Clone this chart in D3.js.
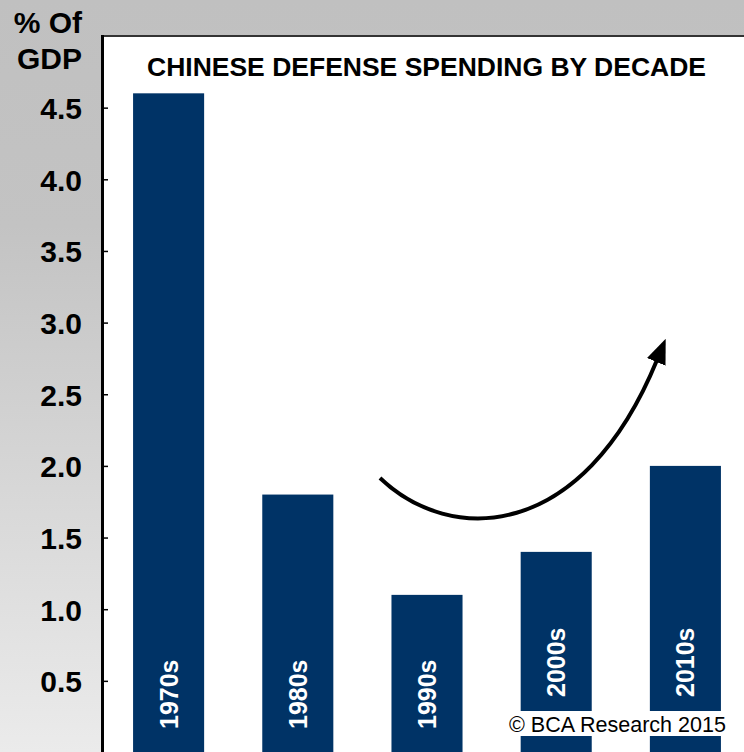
<!DOCTYPE html>
<html>
<head>
<meta charset="utf-8">
<script src="https://cdn.jsdelivr.net/npm/d3@7"></script>
<style>
  html, body { margin: 0; padding: 0; background: #fff; }
  svg { display: block; font-family: "Liberation Sans", Arial, sans-serif; }
</style>
</head>
<body>
<div id="chart"></div>
<script>
// data
const decades = ["1970s", "1980s", "1990s", "2000s", "2010s"];
const spending = [4.6, 1.8, 1.1, 1.4, 2.0];
const tickValues = [0.5, 1.0, 1.5, 2.0, 2.5, 3.0, 3.5, 4.0, 4.5];
const title = "CHINESE DEFENSE SPENDING BY DECADE";
const axisTitle = ["% Of", "GDP"];
const credit = "\u00A9 BCA Research 2015";

const width = 744, height = 752;
const plot = { left: 104, top: 36, right: 744, bottom: 752.5 };

const svg = d3.select("#chart").append("svg")
    .attr("width", width)
    .attr("height", height);

const defs = svg.append("defs");
const grad = defs.append("linearGradient")
    .attr("id", "bg")
    .attr("x1", 0).attr("y1", 0).attr("x2", 0).attr("y2", 1);
grad.append("stop").attr("offset", "0%").attr("stop-color", "#c0c0c0");
grad.append("stop").attr("offset", "30%").attr("stop-color", "#c3c3c3");
grad.append("stop").attr("offset", "100%").attr("stop-color", "#ebebeb");

defs.append("marker")
    .attr("id", "head")
    .attr("viewBox", "0 0 12.5 10")
    .attr("refX", 1).attr("refY", 5)
    .attr("markerWidth", 6.25).attr("markerHeight", 5)
    .attr("markerUnits", "strokeWidth")
    .attr("orient", "auto")
  .append("path")
    .attr("d", "M0,0 L12.5,5 L0,10 z")
    .attr("fill", "#000");

svg.append("rect")
    .attr("width", width).attr("height", height)
    .attr("fill", "url(#bg)");

svg.append("rect")
    .attr("x", plot.left).attr("y", plot.top)
    .attr("width", plot.right - plot.left)
    .attr("height", height - plot.top)
    .attr("fill", "#fff");

const x = d3.scaleBand()
    .domain(decades)
    .range([plot.left, plot.left + 5 * 129.2])
    .paddingInner(0.45)
    .paddingOuter(0.225);

const y = d3.scaleLinear()
    .domain([0, 5])
    .range([plot.bottom, plot.top]);

// bars
svg.append("g")
  .selectAll("rect")
  .data(decades)
  .join("rect")
    .attr("x", d => x(d))
    .attr("y", (d, i) => y(spending[i]))
    .attr("width", x.bandwidth())
    .attr("height", (d, i) => y(0) - y(spending[i]))
    .attr("fill", "#003366");

// rotated decade labels inside bars (last two lifted above the credit)
svg.append("g")
  .selectAll("text")
  .data(decades)
  .join("text")
    .attr("transform", (d, i) => `translate(${x(d) + x.bandwidth() / 2 + 9},${i < 3 ? 729 : 697}) rotate(-90)`)
    .attr("fill", "#fff")
    .attr("font-size", 25)
    .attr("font-weight", "bold")
    .text(d => d);

// top border
svg.append("line")
    .attr("x1", plot.left - 2).attr("x2", plot.right)
    .attr("y1", plot.top).attr("y2", plot.top)
    .attr("stroke", "#333").attr("stroke-width", 2);

// y axis
const yAxis = svg.append("g")
    .attr("transform", `translate(${plot.left - 1},0)`)
    .call(d3.axisRight(y).tickValues(tickValues).tickSize(5).tickFormat(d3.format(".1f")));
yAxis.select(".domain").remove();
yAxis.selectAll(".tick line").attr("stroke", "#000").attr("stroke-width", 1.5);
yAxis.selectAll(".tick text")
    .attr("x", -21)
    .attr("dy", "0.36em")
    .attr("text-anchor", "end")
    .attr("font-size", 30)
    .attr("font-weight", "bold")
    .attr("font-family", "Liberation Sans, Arial, sans-serif")
    .attr("fill", "#000");

svg.append("line")
    .attr("x1", plot.left - 1.5).attr("x2", plot.left - 1.5)
    .attr("y1", plot.top - 1).attr("y2", height)
    .attr("stroke", "#000").attr("stroke-width", 3);

// axis title
svg.append("g")
  .selectAll("text")
  .data(axisTitle)
  .join("text")
    .attr("x", 82)
    .attr("y", (d, i) => 33 + i * 36)
    .attr("text-anchor", "end")
    .attr("font-size", 30)
    .attr("font-weight", "bold")
    .text(d => d);

// chart title
svg.append("text")
    .attr("x", 147).attr("y", 76)
    .attr("font-size", 26)
    .attr("font-weight", "bold")
    .attr("textLength", 559)
    .attr("lengthAdjust", "spacingAndGlyphs")
    .text(title);

// arrow
svg.append("path")
    .attr("d", "M380,478 C450,545 582,543 657,360")
    .attr("fill", "none")
    .attr("stroke", "#000")
    .attr("stroke-width", 4)
    .attr("marker-end", "url(#head)");

// credit
svg.append("rect")
    .attr("x", 506).attr("y", 711)
    .attr("width", 223).attr("height", 25)
    .attr("fill", "#fff");
svg.append("text")
    .attr("x", 509).attr("y", 732)
    .attr("font-size", 22)
    .attr("textLength", 217)
    .attr("lengthAdjust", "spacingAndGlyphs")
    .text(credit);
</script>
</body>
</html>
